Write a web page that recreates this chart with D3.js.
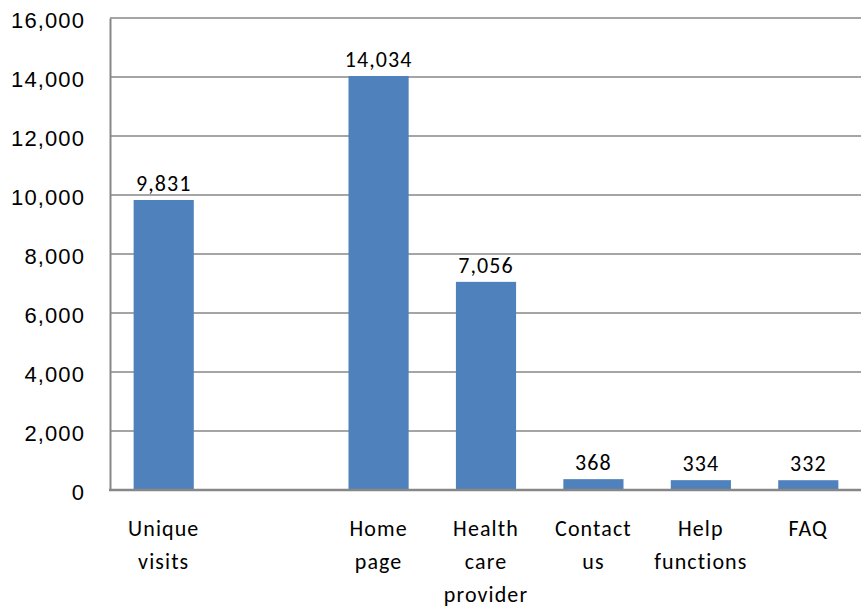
<!DOCTYPE html>
<html>
<head>
<meta charset="utf-8">
<script src="https://cdn.jsdelivr.net/npm/d3@7"></script>
<style>
  html, body { margin: 0; padding: 0; background: #fff; }
  svg { display: block; font-family: Carlito, Lato, "Open Sans", sans-serif; }
  svg text { letter-spacing: 1.1px; }
</style>
</head>
<body>
<svg id="chart" width="861" height="606"></svg>
<script>
// Page-visit counts per section (the empty category is a spacer slot)
const categories = ["Unique visits", "", "Home page", "Health care provider", "Contact us", "Help functions", "FAQ"];
const labelLines = [["Unique", "visits"], [], ["Home", "page"], ["Health", "care", "provider"], ["Contact", "us"], ["Help", "functions"], ["FAQ"]];
const values = [9831, null, 14034, 7056, 368, 334, 332];
const yTicks = [0, 2000, 4000, 6000, 8000, 10000, 12000, 14000, 16000];

const svg = d3.select("#chart");
const margin = { left: 110, right: -1, top: 18, bottom: 116 };
const W = 861, H = 606;

const x = d3.scaleBand()
  .domain(categories.map((c, i) => i))
  .range([margin.left, W - margin.right])
  .paddingInner(0.44)
  .paddingOuter(0.22);

const y = d3.scaleLinear()
  .domain([0, 16000])
  .range([H - margin.bottom, margin.top]);

const fmt = d3.format(",");
const grey = "#878787";

// horizontal gridlines
svg.append("g")
  .selectAll("line")
  .data(yTicks.filter(t => t > 0))
  .join("line")
  .attr("x1", margin.left).attr("x2", W)
  .attr("y1", d => y(d)).attr("y2", d => y(d))
  .attr("stroke", grey).attr("stroke-width", 1.6);

// y axis
const yAxis = svg.append("g")
  .attr("transform", `translate(${margin.left},0)`)
  .call(d3.axisLeft(y).tickValues(yTicks).tickFormat(fmt).tickSize(0).tickPadding(25));
yAxis.select(".domain").attr("stroke", grey).attr("stroke-width", 2);
yAxis.selectAll("text").attr("font-size", 22).attr("fill", "#000").attr("dy", "0.43em");

// bars
const data = values.map((v, i) => ({ i, v })).filter(d => d.v != null);
svg.append("g")
  .selectAll("rect")
  .data(data)
  .join("rect")
  .attr("x", d => x(d.i))
  .attr("width", x.bandwidth())
  .attr("y", d => y(d.v))
  .attr("height", d => y(0) - y(d.v))
  .attr("fill", "#4F81BD");

// value labels
svg.append("g")
  .selectAll("text")
  .data(data)
  .join("text")
  .attr("x", d => x(d.i) + x.bandwidth() / 2)
  .attr("y", d => y(d.v) - 9)
  .attr("text-anchor", "middle")
  .attr("font-size", 22)
  .attr("fill", "#000")
  .text(d => fmt(d.v));

// x axis baseline
svg.append("line")
  .attr("x1", margin.left - 1).attr("x2", W)
  .attr("y1", y(0)).attr("y2", y(0))
  .attr("stroke", grey).attr("stroke-width", 2.6);

// category labels
const cat = svg.append("g")
  .selectAll("text")
  .data(labelLines.map((lines, i) => ({ lines, i })))
  .join("text")
  .attr("text-anchor", "middle")
  .attr("font-size", 22)
  .attr("fill", "#000");
cat.selectAll("tspan")
  .data(d => d.lines.map(l => ({ l, i: d.i })))
  .join("tspan")
  .attr("x", d => x(d.i) + x.bandwidth() / 2)
  .attr("y", (d, k) => 536 + k * 33)
  .text(d => d.l);
</script>
</body>
</html>
